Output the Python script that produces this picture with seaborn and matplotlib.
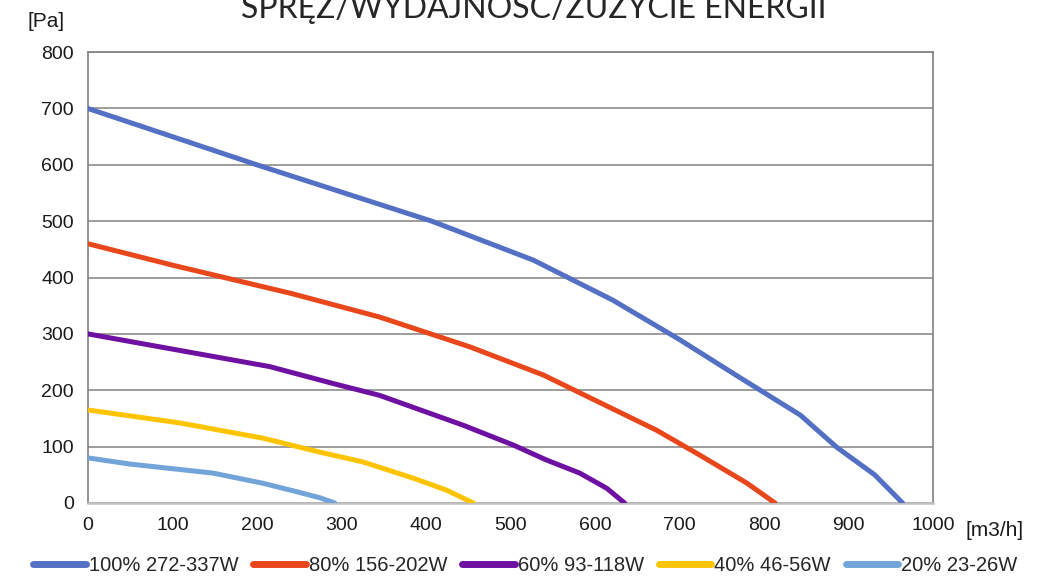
import matplotlib
matplotlib.use("Agg")
import matplotlib.pyplot as plt
import pandas as pd
import seaborn as sns

# fan curves: airflow [m3/h] vs pressure [Pa]
flow_100 = [0, 200, 407, 527, 621, 700, 772, 843, 886, 931, 964]
pres_100 = [700, 600, 500, 431, 360, 290, 222, 156, 99, 50, 0]

flow_80 = [0, 100, 240, 345, 452, 539, 673, 724, 780, 813]
pres_80 = [460, 422, 372, 330, 277, 227, 129, 85, 35, 0]

flow_60 = [0, 100, 215, 290, 345, 444, 503, 543, 582, 614, 635]
pres_60 = [300, 273, 242, 212, 191, 138, 103, 76, 53, 26, 0]

flow_40 = [0, 109, 207, 275, 325, 385, 424, 456]
pres_40 = [165, 142, 115, 90, 73, 44, 23, 0]

flow_20 = [0, 50, 148, 207, 247, 275, 292]
pres_20 = [80, 69, 53, 35, 20, 9, 0]

series_names = ["100% 272-337W", "80% 156-202W", "60% 93-118W", "40% 46-56W", "20% 23-26W"]
series_colors = ["#5470C4", "#E8461B", "#6E10A2", "#FFC400", "#72A3D9"]

x_ticks = list(range(0, 1001, 100))
y_ticks = list(range(0, 801, 100))

flows = [flow_100, flow_80, flow_60, flow_40, flow_20]
pressures = [pres_100, pres_80, pres_60, pres_40, pres_20]
df = pd.concat(
    [pd.DataFrame({"flow": f, "pressure": p, "series": n}) for f, p, n in zip(flows, pressures, series_names)],
    ignore_index=True,
)

sns.set_theme(style="white")
plt.rcParams["font.family"] = ["Liberation Sans", "DejaVu Sans"]

fig = plt.figure(figsize=(10.51, 5.78), dpi=100)
ax = fig.add_axes([0.0837, 0.1298, 0.804, 0.780])

sns.lineplot(
    data=df, x="flow", y="pressure", hue="series", hue_order=series_names,
    palette=dict(zip(series_names, series_colors)), sort=False, estimator=None,
    linewidth=3.6, ax=ax, legend=False, zorder=3,
)

ax.set_xlim(0, 1000)
ax.set_ylim(0, 800)
ax.set_xticks(x_ticks)
ax.set_yticks(y_ticks)
ax.tick_params(axis="both", labelsize=14, colors="#1a1a1a", length=0, pad=10)
ax.yaxis.grid(True, color="#8c8c8c", linewidth=1.2)
ax.xaxis.grid(False)
ax.set_xlabel("")
ax.set_ylabel("")

for side in ["left", "right", "top"]:
    ax.spines[side].set_color("#808080")
    ax.spines[side].set_linewidth(1.2)
ax.spines["bottom"].set_color("#c0c0c0")
ax.spines["bottom"].set_linewidth(1.8)

fig.text(0.026, 0.962, "[Pa]", fontsize=15, color="#1a1a1a", ha="left", va="center")
fig.text(0.919, 0.083, "[m3/h]", fontsize=15, color="#1a1a1a", ha="left", va="center")

fig.text(0.508, 0.969, "SPRĘŻ/WYDAJNOŚĆ/ZUŻYCIE ENERGII", fontsize=23,
         family=["Lato", "DejaVu Sans"], color="#262626",
         ha="center", va="baseline")

handles = [plt.Line2D([], [], color=c, linewidth=5, solid_capstyle="round") for c in series_colors]
fig.legend(
    handles, series_names, loc="center", bbox_to_anchor=(0.5, 0.022), ncol=5, frameon=False,
    prop={"size": 14.5},
    handlelength=2.6, handletextpad=0.15, columnspacing=0.75, borderaxespad=0,
)

fig.savefig("out.png", dpi=100)
plt.close(fig)
